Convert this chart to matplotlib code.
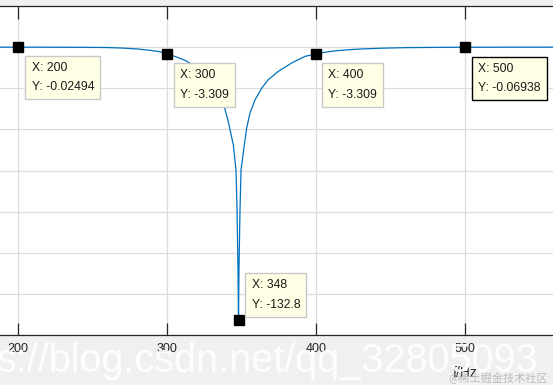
"""Notch filter magnitude response with MATLAB-style data tips."""

import matplotlib

matplotlib.use("Agg")
import matplotlib.pyplot as plt

# Magnitude response (dB)
freq_hz = [188, 200, 225, 245, 260, 270, 280, 288, 295, 300, 306, 312, 318, 324,
           330, 334, 337.8, 341.1, 344.5, 346.3, 347, 347.65, 348,
           348.3, 349, 349.7, 351.9, 353.5, 355.7, 359.1, 363.6, 368.0,
           374.7, 383.7, 392.6, 400, 405, 412, 420, 430, 445, 460,
           480, 500, 530, 560]
mag_db = [-0.018, -0.025, -0.05, -0.1, -0.2, -0.45, -0.9, -1.5, -2.2, -3.309,
          -4.7, -6.4, -9.0, -12.5, -17.5, -22, -27.2, -36.1, -47.5, -59.6,
          -79, -108, -132.8, -108, -79, -59.6, -47.5, -39.3, -32.0, -25.6,
          -19.9, -15.8, -11.8, -7.7, -4.5, -3.309, -2.6, -1.9, -1.35, -0.9,
          -0.5, -0.25, -0.12, -0.069, -0.035, -0.02]

# Data tips shown in the figure
tip_x = [200, 300, 348, 400, 500]
tip_y = [-0.02494, -3.309, -132.8, -3.309, -0.06938]
tip_labels = ["X: 200\nY: -0.02494", "X: 300\nY: -3.309", "X: 348\nY: -132.8",
              "X: 400\nY: -3.309", "X: 500\nY: -0.06938"]
x_ticks = [200, 300, 400, 500]
y_ticks = [0, -20, -40, -60, -80, -100, -120, -140]

W, H, DPI = 553, 385, 100
plt.rcParams["font.family"] = ["Liberation Sans", "DejaVu Sans"]

fig = plt.figure(figsize=(W / DPI, H / DPI), dpi=DPI, facecolor="#f0f0f0")
ax = fig.add_axes([0, 50 / H, 1, 329 / H])
ax.set_facecolor("white")

ax.plot(freq_hz, mag_db, color="#0072bd", lw=0.9, zorder=3)
ax.plot(tip_x, tip_y, ls="none", marker="s", ms=6.8, color="black", zorder=5)

ax.set_xlim(200 - 18 / 1.49, 500 + 88 / 1.49)
ax.set_ylim(-140, 20)
ax.set_xticks(x_ticks)
ax.set_yticks(y_ticks)
ax.grid(True, color="#dcdcdc", lw=0.9)
ax.set_axisbelow(True)
ax.tick_params(axis="x", direction="in", length=9, width=0.9, color="#262626",
               top=True, pad=6, labelsize=9, labelcolor="#262626")
ax.tick_params(axis="y", length=0, labelleft=False)
for side in ("left", "right"):
    ax.spines[side].set_visible(False)
for side in ("top", "bottom"):
    ax.spines[side].set_color("#262626")
    ax.spines[side].set_linewidth(0.9)

# data tip boxes: offsets in pixels from the marker
offsets = [(13.5, -15), (13.5, -15.5), (13, 9.5), (12.5, -15.5), (13.5, -15.5)]
for x, y, label, (dx, dy) in zip(tip_x, tip_y, tip_labels, offsets):
    edge = "black" if x == 500 else "#c8c8c8"
    ax.annotate(
        label, xy=(x, y), xytext=(dx, dy), textcoords="offset pixels",
        ha="left", va="top" if dy < 0 else "bottom", fontsize=8.7,
        linespacing=1.8, color="#1a1a1a", zorder=6,
        bbox=dict(boxstyle="square,pad=0.5", facecolor="#ffffe6",
                  edgecolor=edge, linewidth=1.0),
    )

fig.text(465 / W, 1 - 373 / H, "f/Hz", ha="center", va="center",
         fontsize=10, color="#262626")

# watermarks
fig.text(-3 / W, 1 - 372 / H, "s://blog.csdn.net/qq_32805093", ha="left",
         va="baseline", fontsize=28.5, color="white", alpha=0.9, zorder=10)
fig.text(548 / W, 1 - 378 / H, "@稀土掘金技术社区", ha="right", va="center",
         fontsize=8, color="#bcbcbc", family=["Noto Sans CJK SC", "DejaVu Sans"],
         zorder=11)

fig.savefig("out.png", dpi=DPI, facecolor=fig.get_facecolor())
